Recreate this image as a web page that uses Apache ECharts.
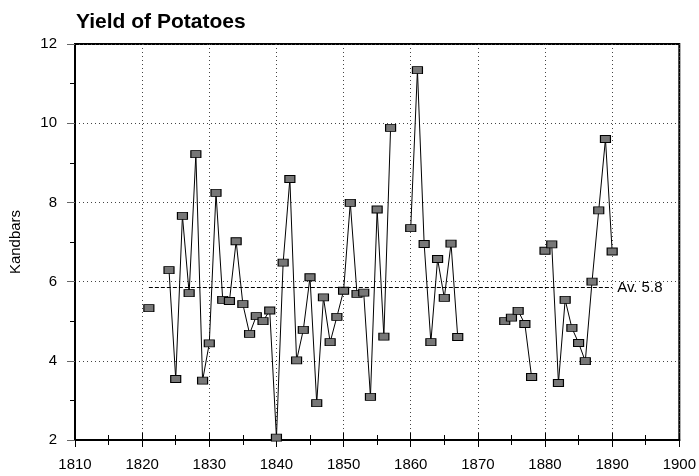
<!DOCTYPE html>
<html>
<head>
<meta charset="utf-8">
<script src="https://cdn.jsdelivr.net/npm/echarts@6/dist/echarts.min.js"></script>
<style>
  html, body { margin: 0; padding: 0; background: #fff; }
  #chart { width: 699px; height: 476px; }
</style>
</head>
<body>
<div id="chart"></div>
<script>
var chart = echarts.init(document.getElementById('chart'));

// yield per year; null marks a gap in the record
var years = [1821, 1822, 1824, 1825, 1826, 1827, 1828, 1829, 1830, 1831, 1832, 1833, 1834, 1835,
    1836, 1837, 1838, 1839, 1840, 1841, 1842, 1843, 1844, 1845, 1846, 1847, 1848, 1849, 1850,
    1851, 1852, 1853, 1854, 1855, 1856, 1857, 1858, 1860, 1861, 1862, 1863, 1864, 1865, 1866,
    1867, 1868, 1874, 1875, 1876, 1877, 1878, 1879, 1880, 1881, 1882, 1883, 1884, 1885, 1886,
    1887, 1888, 1889, 1890];
var yields = [5.33, null, 6.29, 3.54, 7.66, 5.71, 9.22, 3.50, 4.44, 8.24, 5.54, 5.51, 7.02, 5.43,
    4.68, 5.13, 5.00, 5.27, 2.06, 6.48, 8.59, 4.01, 4.78, 6.11, 2.93, 5.60, 4.47, 5.11, 5.77,
    7.99, 5.69, 5.72, 3.09, 7.82, 4.61, 9.88, null, 7.35, 11.34, 6.95, 4.47, 6.57, 5.59, 6.96,
    4.60, null, 5.00, 5.09, 5.26, 4.93, 3.59, null, 6.78, 6.94, 3.44, 5.54, 4.83, 4.45, 3.99,
    6.00, 7.80, 9.60, 6.76];
var average = 5.85;
var averageLabel = 'Av. 5.8';
var avgFrom = 1821, avgTo = 1890;

var points = years.map(function (y, i) { return [y, yields[i] === null ? '-' : yields[i]]; });

var font = 'Liberation Sans, Arial, sans-serif';

option = {
    backgroundColor: '#fff',
    animation: false,
    title: {
        text: 'Yield of Potatoes',
        left: 71,
        top: 7,
        textStyle: { fontFamily: font, fontSize: 21, fontWeight: 'bold', color: '#000' }
    },
    grid: {
        left: 73, right: 16, top: 44, bottom: 36,
        show: true, borderColor: '#000', borderWidth: 2, backgroundColor: 'transparent'
    },
    xAxis: [{
        type: 'value', min: 1810, max: 1900, interval: 10,
        axisLine: { show: true, lineStyle: { color: '#000', width: 2 } },
        axisTick: { show: true, length: 7, lineStyle: { color: '#000' } },
        minorTick: { show: true, splitNumber: 2, length: 5, lineStyle: { color: '#000' } },
        axisLabel: {
            color: '#000', fontFamily: font, fontSize: 15, margin: 17,
            formatter: function (v) { return String(v); }
        },
        splitLine: { show: true, lineStyle: { color: '#444', type: [1, 3], width: 1 } }
    }, {
        type: 'value', min: 1810, max: 1900, interval: 10, position: 'bottom',
        axisLine: { show: false },
        axisTick: { show: true, inside: true, length: 7, lineStyle: { color: '#000' } },
        minorTick: { show: true, splitNumber: 2, length: 5, lineStyle: { color: '#000' } },
        axisLabel: { show: false },
        splitLine: { show: false }
    }],
    yAxis: [{
        type: 'value', min: 2, max: 12, interval: 2,
        name: 'Kandbars', nameLocation: 'middle', nameGap: 52, nameRotate: 90,
        nameTextStyle: { color: '#000', fontFamily: font, fontSize: 15 },
        axisLine: { show: true, lineStyle: { color: '#000', width: 2 } },
        axisTick: { show: true, length: 8, lineStyle: { color: '#666' } },
        minorTick: { show: true, splitNumber: 2, length: 5, lineStyle: { color: '#000' } },
        axisLabel: { color: '#000', fontFamily: font, fontSize: 15, margin: 18 },
        splitLine: { show: true, lineStyle: { color: '#444', type: [1, 3], width: 1 } }
    }, {
        type: 'value', min: 2, max: 12, interval: 2, position: 'left',
        axisLine: { show: false },
        axisTick: { show: false },
        minorTick: { show: true, splitNumber: 2, length: 5, lineStyle: { color: '#000' } },
        axisLabel: { show: false },
        splitLine: { show: false }
    }],
    series: [{
        name: 'Yield',
        type: 'line',
        xAxisIndex: 0, yAxisIndex: 0,
        data: points,
        connectNulls: false,
        symbol: 'rect',
        symbolSize: [10, 7],
        showAllSymbol: true,
        lineStyle: { color: '#000', width: 1 },
        itemStyle: { color: '#777', borderColor: '#000', borderWidth: 1 },
        markLine: {
            silent: true,
            symbol: 'none',
            lineStyle: { color: '#000', type: [4, 2], width: 1 },
            label: { show: true, position: 'end', distance: 5, formatter: averageLabel, color: '#000', fontFamily: font, fontSize: 15 },
            data: [[{ coord: [avgFrom, average] }, { coord: [avgTo, average] }]]
        },
        z: 3
    }]
};

chart.setOption(option);
</script>
</body>
</html>
